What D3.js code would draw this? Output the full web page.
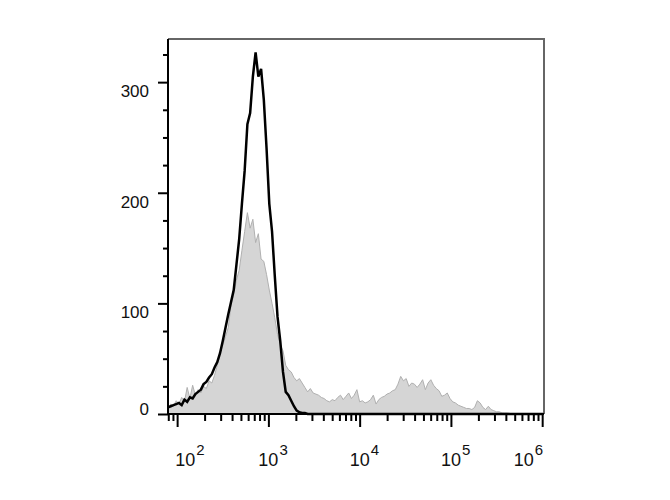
<!DOCTYPE html>
<html><head><meta charset="utf-8">
<script src="https://cdn.jsdelivr.net/npm/d3@7"></script>
<style>body{margin:0;background:#fff}svg{display:block}</style>
</head><body>
<svg id="chart" width="670" height="500"></svg>
<script>
// bin positions (log10 of fluorescence intensity)
const binLog = [
1.90,1.93,1.96,1.99,2.02,2.05,2.08,2.11,2.14,2.17,
2.20,2.23,2.26,2.29,2.32,2.35,2.38,2.41,2.44,2.47,
2.50,2.53,2.56,2.59,2.62,2.65,2.68,2.71,2.74,2.77,
2.80,2.83,2.86,2.89,2.92,2.95,2.98,3.01,3.04,3.07,
3.10,3.13,3.16,3.19,3.22,3.25,3.28,3.31,3.34,3.37,
3.40,3.43,3.46,3.49,3.52,3.55,3.58,3.61,3.64,3.67,
3.70,3.73,3.76,3.79,3.82,3.85,3.88,3.91,3.94,3.97,
4.00,4.03,4.06,4.09,4.12,4.15,4.18,4.21,4.24,4.27,
4.30,4.33,4.36,4.39,4.42,4.45,4.48,4.51,4.54,4.57,
4.60,4.63,4.66,4.69,4.72,4.75,4.78,4.81,4.84,4.87,
4.90,4.93,4.96,4.99,5.02,5.05,5.08,5.11,5.14,5.17,
5.20,5.23,5.26,5.29,5.32,5.35,5.38,5.41,5.44,5.47,
5.50,5.53,5.56,5.59,5.62,5.65,5.68,5.71,5.74,5.77,
5.80,5.83,5.86,5.89,5.92,5.95,5.98,6.01];

// black outline histogram (control)
const unstained = [
6,7,8,9,10,8,13,11,15,14,
18,20,22,27,29,33,36,42,47,55,
66,78,90,101,112,135,158,190,220,262,
272,305,327,305,312,284,240,190,165,125,
88,66,38,20,17,12,7,3,1.5,1,
1,0,0,0,0,0,0,0,0,0,
0,0,0,0,0,0,0,0,0,0,
0,0,0,0,0,0,0,0,0,0,
0,0,0,0,0,0,0,0,0,0,
0,0,0,0,0,0,0,0,0,0,
0,0,0,0,0,0,0,0,0,0,
0,0,0,0,0,0,0,0,0,0,
0,0,0,0,0,0,0,0,0,0,
0,0,0,0,0,0,0,0];

// grey filled histogram (stained)
const stained = [
5,9,7,12,9,15,11,24,14,26,
17,22,19,25,23,30,28,35,44,55,
62,70,78,98,108,121,130,148,165,182,
168,176,155,163,140,138,126,112,100,87,
72,63,57,44,40,38,33,30,32,28,
24,20,23,19,18,17,15,14,12,11,
13,12,15,17,13,16,19,14,17,22,
11,12,10,11,13,17,9,13,15,16,
18,19,21,22,27,34,30,32,25,28,
27,24,27,31,22,28,31,26,23,21,
16,17,19,14,11,10,8,7,6,5,
5,4,6,12,10,6,4,7,4,3,
2,2,1,1,1,0.5,0,0,0,0,
0,0,0,0,0,0,0,0];

const yTicks = [0,100,200,300];
const yMinorStep = 25;
const xDecades = [2,3,4,5,6];
const xMinorMult = [2,3,4,5,6,7,8,9];

const svg = d3.select("#chart");
const pL = 168, pR = 544, pT = 39, pB = 414;

const x = d3.scaleLog().domain([Math.pow(10,1.9), Math.pow(10,6.02)]).range([pL, pR]);
const y = d3.scaleLinear().domain([0, 339]).range([pB, pT]);

const pts = (vals) => binLog.map((l,i) => [Math.pow(10,l), vals[i]]);

// grey filled histogram
const area = d3.area().x(d => x(d[0])).y0(y(0)).y1(d => y(d[1]));
svg.append("path").datum(pts(stained))
  .attr("d", area).attr("fill", "#d5d5d5")
  .attr("stroke", "#b0b0b0").attr("stroke-width", 1);

// black line
const line = d3.line().x(d => x(d[0])).y(d => y(d[1]));
svg.append("path").datum(pts(unstained))
  .attr("d", line).attr("fill", "none")
  .attr("stroke", "#000").attr("stroke-width", 2.5).attr("stroke-linejoin", "miter");

// frame top/right
svg.append("path")
  .attr("d", `M${x.range()[0]},${y.range()[1]}H${x.range()[1]}V${y.range()[0]}`)
  .attr("fill","none").attr("stroke","#666").attr("stroke-width",2);

// Y axis
const yMinorVals = d3.range(0, 339, yMinorStep).filter(v => v % 100 !== 0);
const yMinor = svg.append("g").attr("transform", `translate(${pL},0)`)
  .call(d3.axisLeft(y).tickValues(yMinorVals).tickSize(5).tickFormat(""));
const yMajor = svg.append("g").attr("transform", `translate(${pL},0)`)
  .call(d3.axisLeft(y).tickValues(yTicks).tickSize(10).tickPadding(9).tickFormat(d3.format("d")));
[yMinor, yMajor].forEach(g => {
  g.select(".domain").remove();
  g.selectAll(".tick line").attr("stroke","#000").attr("stroke-width",2);
});
yMajor.selectAll(".tick text")
  .attr("font-family","'Liberation Sans', Arial, sans-serif")
  .attr("font-size", 17).attr("fill","#111")
  .attr("dy", d => d === 0 ? "0.05em" : "0.85em");

// X axis
const xMinorVals = [];
xDecades.concat([1]).forEach(k => xMinorMult.forEach(m => {
  const v = m * Math.pow(10, k);
  if (v >= x.domain()[0] && v <= x.domain()[1]) xMinorVals.push(v);
}));
const xMinor = svg.append("g").attr("transform", `translate(0,${pB})`)
  .call(d3.axisBottom(x).tickValues(xMinorVals).tickSize(7).tickFormat(""));
const xMajor = svg.append("g").attr("transform", `translate(0,${pB})`)
  .call(d3.axisBottom(x).tickValues(xDecades.map(k => Math.pow(10,k))).tickSize(13).tickFormat(""));
[xMinor, xMajor].forEach(g => {
  g.select(".domain").remove();
  g.selectAll(".tick line").attr("stroke","#000").attr("stroke-width",2);
});

// axis lines (left & bottom)
svg.append("path")
  .attr("d", `M${pL},${pT}V${pB}H${pR}`)
  .attr("fill","none").attr("stroke","#000").attr("stroke-width",2);

// X labels 10^k
const labG = svg.append("g")
  .attr("font-family","'Liberation Sans', Arial, sans-serif").attr("fill","#111");
xDecades.forEach((k, i) => {
  const t = labG.append("text").attr("y", pB + 52);
  const base = t.append("tspan").attr("font-size", 18).text("10");
  t.append("tspan").attr("font-size", 15).attr("dy", -11).attr("dx", 1).text(String(k));
  const bw = base.node().getComputedTextLength();
  const tw = t.node().getBBox().width;
  const tx = x(Math.pow(10, k));
  let sx;
  if (i === 0) sx = tx - 2;
  else if (i === xDecades.length - 1) sx = tx - tw + 1;
  else sx = tx - bw / 2;
  t.attr("x", sx);
});
</script>
</body></html>
